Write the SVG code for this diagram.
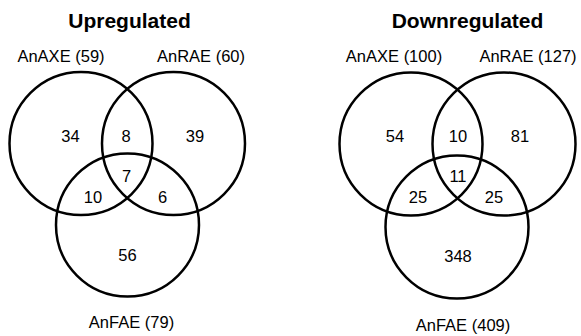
<svg xmlns="http://www.w3.org/2000/svg" width="581" height="336" viewBox="0 0 581 336">
<style>
.c{fill:none;stroke:#000;stroke-width:2.5}
.t{font-family:"Liberation Sans",Arial,sans-serif;font-size:21px;font-weight:bold;text-anchor:middle;fill:#000}
.l{font-family:"Liberation Sans",Arial,sans-serif;font-size:16.5px;text-anchor:middle;fill:#000}
.n{font-family:"Liberation Sans",Arial,sans-serif;font-size:16.5px;text-anchor:middle;fill:#000}
</style>
<rect width="581" height="336" fill="#fff"/>
<g id="up">
<text class="t" x="129.5" y="28">Upregulated</text>
<g id="up-axe"><circle class="c" cx="81" cy="143.5" r="71.5"/><text class="l" x="61" y="62">AnAXE (59)</text></g>
<g id="up-rae"><circle class="c" cx="173.5" cy="143.5" r="71.5"/><text class="l" x="201" y="62">AnRAE (60)</text></g>
<g id="up-fae"><circle class="c" cx="127.5" cy="225" r="71.5"/><text class="l" x="131.5" y="328">AnFAE (79)</text></g>
<text class="n" x="70.5" y="142">34</text>
<text class="n" x="126" y="142">8</text>
<text class="n" x="195" y="142">39</text>
<text class="n" x="126.5" y="182">7</text>
<text class="n" x="93" y="203">10</text>
<text class="n" x="162.5" y="203">6</text>
<text class="n" x="127.5" y="261">56</text>
</g>
<g id="down">
<text class="t" x="467.5" y="28">Downregulated</text>
<g id="down-axe"><circle class="c" cx="411" cy="144" r="71.5"/><text class="l" x="394" y="62">AnAXE (100)</text></g>
<g id="down-rae"><circle class="c" cx="504" cy="144" r="71.5"/><text class="l" x="528" y="62">AnRAE (127)</text></g>
<g id="down-fae"><circle class="c" cx="457" cy="227" r="71.5"/><text class="l" x="463" y="331">AnFAE (409)</text></g>
<text class="n" x="395" y="142">54</text>
<text class="n" x="458" y="142">10</text>
<text class="n" x="520" y="142">81</text>
<text class="n" x="458" y="182">11</text>
<text class="n" x="418" y="203">25</text>
<text class="n" x="494" y="203">25</text>
<text class="n" x="458" y="262">348</text>
</g>
</svg>
